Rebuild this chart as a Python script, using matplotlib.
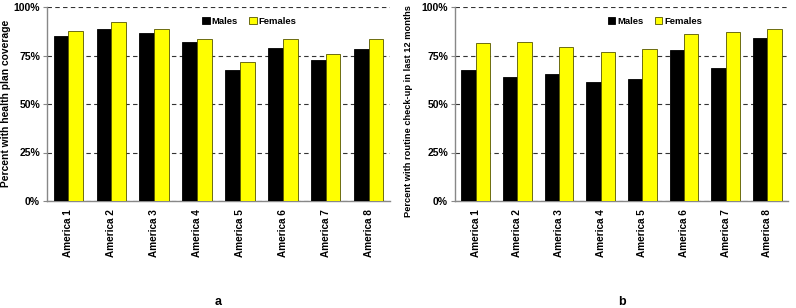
import numpy as np
import matplotlib.pyplot as plt
from matplotlib.ticker import FuncFormatter

plt.rcParams['font.family'] = ['Liberation Sans', 'DejaVu Sans']
plt.rcParams['font.weight'] = 'bold'

regions = [f"America {i}" for i in range(1, 9)]

# panel a: health plan coverage (%)
coverage_males = [85.0, 88.7, 86.4, 81.8, 67.4, 79.0, 72.5, 78.4]
coverage_females = [87.6, 92.1, 88.8, 83.3, 71.6, 83.7, 75.8, 83.3]

# panel b: routine check-up in last 12 months (%)
checkup_males = [67.5, 64.1, 65.6, 61.5, 62.7, 77.7, 68.6, 84.2]
checkup_females = [81.3, 81.8, 79.2, 76.6, 78.5, 86.1, 87.3, 88.7]

fig = plt.figure(figsize=(7.96, 3.08), dpi=100)
ax_a = fig.add_axes([47 / 796, 1 - 201 / 308, 343 / 796, 194 / 308])
ax_b = fig.add_axes([455 / 796, 1 - 201 / 308, 333 / 796, 194 / 308])

panels = [
    (ax_a, coverage_males, coverage_females, "Percent with health plan coverage", "a", 0.59, -0.104, 0.505, 7.4),
    (ax_b, checkup_males, checkup_females, "Percent with routine check-up in last 12 months", "b", 0.60, -0.126, 0.466, 6.7),
]

x = np.arange(len(regions))
w = 0.345
for ax, males, females, ylabel, tag, leg_x, lab_x, lab_y, lab_fs in panels:
    ax.set_axisbelow(True)
    ax.yaxis.grid(True, linestyle=(0, (4, 3)), color='#333333', linewidth=0.8)
    ax.bar(x - w / 2, males, w, color='black', edgecolor='black', linewidth=0.6, label='Males', zorder=3)
    ax.bar(x + w / 2, females, w, color='#ffff00', edgecolor='#555500', linewidth=0.6, label='Females', zorder=3)
    ax.set_xlim(-0.5, len(regions) - 0.5)
    ax.set_ylim(0, 100)
    ax.set_yticks([0, 25, 50, 75, 100])
    ax.yaxis.set_major_formatter(FuncFormatter(lambda v, p: f"{v:.0f}%"))
    ax.set_xticks(x)
    ax.set_xticklabels(regions, rotation=90, fontsize=7.2, fontweight='bold')
    ax.tick_params(axis='y', labelsize=7.5, length=3, color='#888888', pad=2)
    ax.tick_params(axis='x', length=0, pad=6)
    for s in ['top', 'right']:
        ax.spines[s].set_visible(False)
    for s in ['left', 'bottom']:
        ax.spines[s].set_color('#888888')
        ax.spines[s].set_linewidth(1.0)
    ax.set_ylabel(ylabel, fontsize=lab_fs, fontweight='bold')
    ax.yaxis.set_label_coords(lab_x, lab_y)
    ax.legend(loc='upper center', bbox_to_anchor=(leg_x, 0.97), ncol=2, frameon=False,
              fontsize=6.8, handlelength=0.8, handleheight=0.8, handletextpad=0.2,
              columnspacing=1.2, borderaxespad=0)
    ax.text(0.5, -0.52, tag, transform=ax.transAxes, ha='center', va='center',
            fontsize=9, fontweight='bold')

fig.savefig('out.png', dpi=100)
